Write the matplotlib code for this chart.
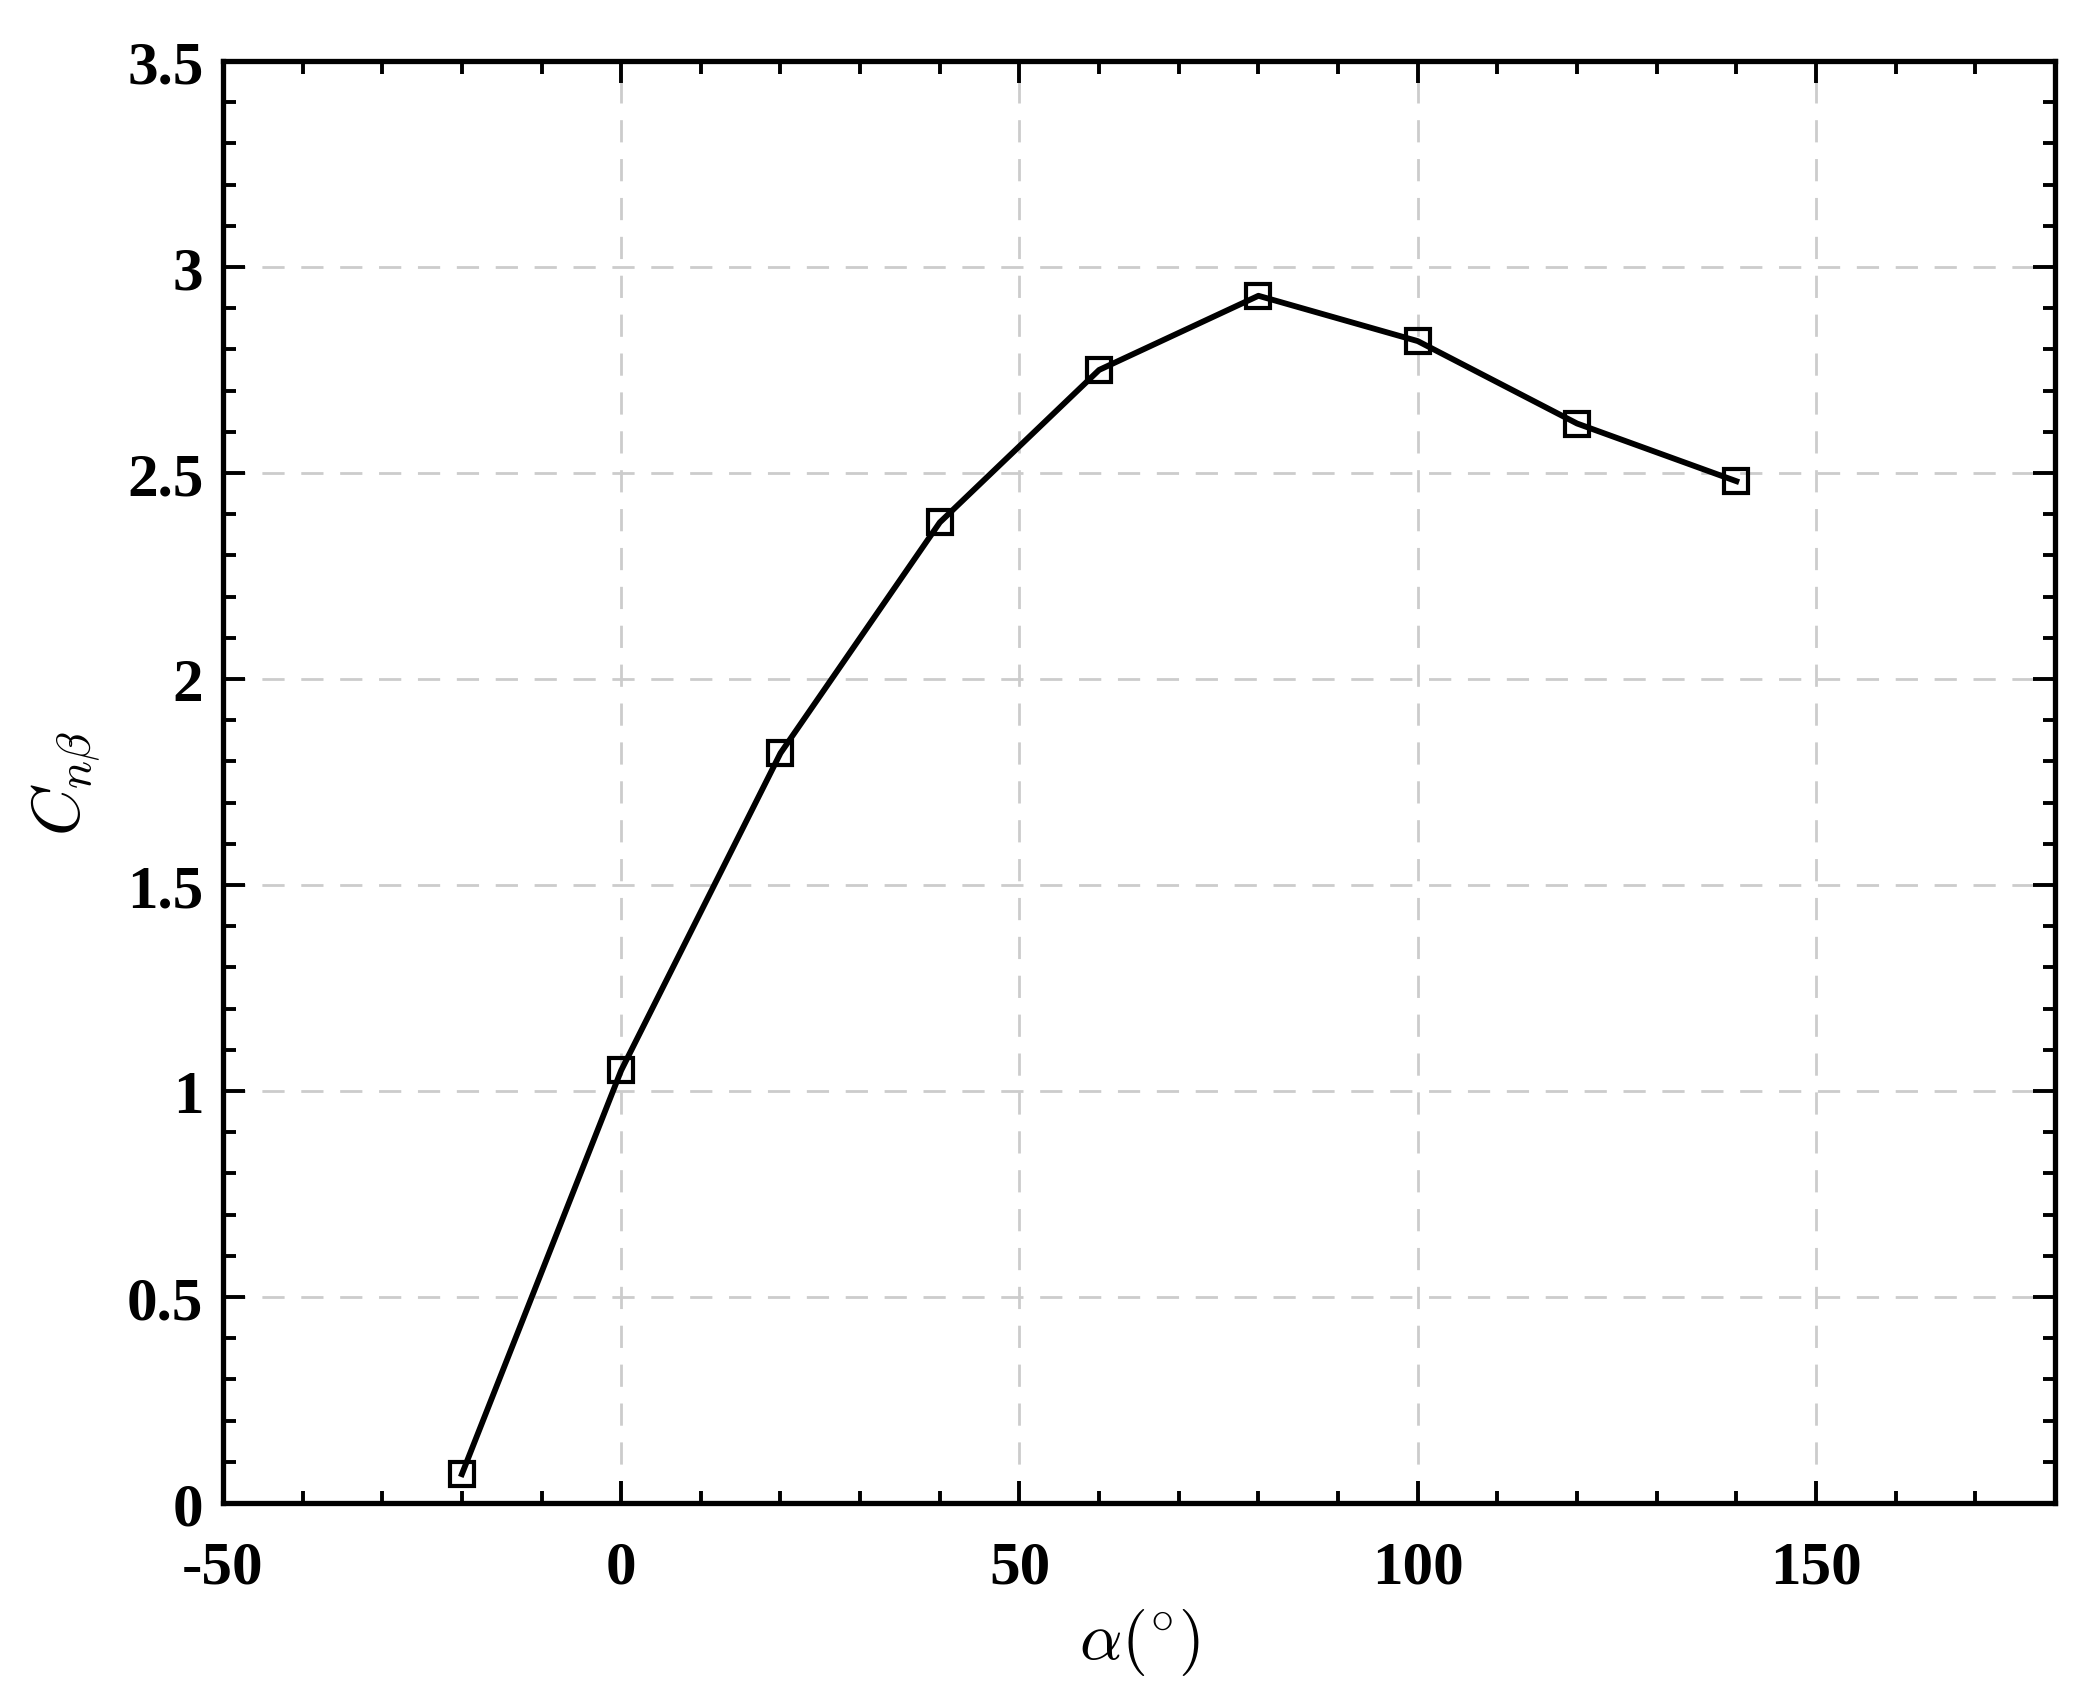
import numpy as np
import matplotlib
matplotlib.use('Agg')
import matplotlib.pyplot as plt
from matplotlib.ticker import MultipleLocator

# angle of attack and directional stability derivative
alpha = [-20, 0, 20, 40, 60, 80, 100, 120, 140]
cn_beta = [0.07, 1.05, 1.82, 2.38, 2.75, 2.93, 2.82, 2.62, 2.48]

xticks = [-50, 0, 50, 100, 150]
xtick_labels = ['-50', '0', '50', '100', '150']
yticks = [0, 0.5, 1, 1.5, 2, 2.5, 3, 3.5]
ytick_labels = ['0', '0.5', '1', '1.5', '2', '2.5', '3', '3.5']

plt.rcParams['mathtext.fontset'] = 'cm'

fig = plt.figure(figsize=(20.95, 17.06), dpi=100)
ax = fig.add_axes([0.1064, 0.1184, 0.8745, 0.8453])

ax.plot(alpha, cn_beta, color='black', linewidth=4.2, marker='s', markersize=17,
        markerfacecolor='none', markeredgecolor='black', markeredgewidth=3)

ax.set_xlim(-50, 180)
ax.set_ylim(0, 3.5)
ax.set_xticks(xticks)
ax.set_xticklabels(xtick_labels)
ax.set_yticks(yticks)
ax.set_yticklabels(ytick_labels)
ax.xaxis.set_minor_locator(MultipleLocator(10))
ax.yaxis.set_minor_locator(MultipleLocator(0.1))

ax.grid(True, which='major', linestyle=(0, (8, 6)), color='#cccccc', linewidth=2)
ax.tick_params(which='both', direction='in', top=True, right=True, width=2.8)
ax.tick_params(which='major', length=16)
ax.tick_params(which='minor', length=9)
ax.tick_params(axis='x', which='major', pad=26)
ax.tick_params(axis='y', which='major', pad=14)
for s in ax.spines.values():
    s.set_linewidth(3.8)

for lab in ax.get_xticklabels() + ax.get_yticklabels():
    lab.set_fontfamily('Liberation Serif')
    lab.set_fontweight('bold')
    lab.set_fontsize(44)

ax.set_xlabel(r'$\alpha(^{\circ})$', fontsize=48, labelpad=8)
ax.set_ylabel(r'$C_{n\beta}$', fontsize=48, labelpad=18)

fig.savefig('out.png', dpi=100)
